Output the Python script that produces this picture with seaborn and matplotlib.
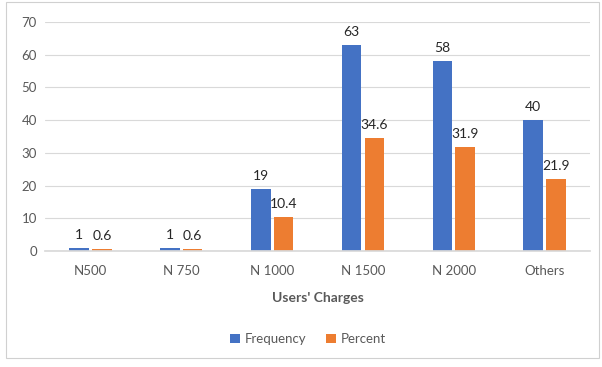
import matplotlib
matplotlib.use("Agg")
import matplotlib.pyplot as plt
import seaborn as sns
import pandas as pd
from matplotlib.patches import Rectangle

categories = ["N500", "N 750", "N 1000", "N 1500", "N 2000", "Others"]
frequency = [1, 1, 19, 63, 58, 40]
percent = [0.6, 0.6, 10.4, 34.6, 31.9, 21.9]
freq_labels = ["1", "1", "19", "63", "58", "40"]
pct_labels = ["0.6", "0.6", "10.4", "34.6", "31.9", "21.9"]
series = ["Frequency", "Percent"]
colors = ["#4472C4", "#ED7D31"]

df = pd.DataFrame({
    "cat": categories * 2,
    "val": frequency + percent,
    "series": [series[0]] * len(categories) + [series[1]] * len(categories),
})

sns.set_theme(style="white")
plt.rcParams["font.family"] = ["Lato", "DejaVu Sans"]

fig = plt.figure(figsize=(6.02, 3.67), dpi=100)
ax = fig.add_axes([0.075, 0.316, 0.905, 0.624])
sns.barplot(data=df, x="cat", y="val", hue="series", palette=colors,
            saturation=1, width=0.5, gap=0.14, linewidth=0, ax=ax, legend=True)

ax.set_ylim(0, 70)
ax.set_yticks(range(0, 71, 10))
ax.yaxis.grid(True, color="#D9D9D9", linewidth=0.8)
ax.set_axisbelow(True)
for s in ["top", "right", "left"]:
    ax.spines[s].set_visible(False)
ax.spines["bottom"].set_color("#D9D9D9")
ax.tick_params(axis="both", length=0, colors="#595959", labelsize=9.5)
ax.tick_params(axis="y", pad=6)
ax.tick_params(axis="x", pad=10)
ax.set_ylabel("")
ax.set_xlabel("Users' Charges", fontsize=10, fontweight="bold", color="#595959", labelpad=11)

for cont, labs in zip(ax.containers, [freq_labels, pct_labels]):
    ax.bar_label(cont, labels=labs, padding=5, fontsize=10, color="#262626")

leg = ax.legend(loc="upper center", bbox_to_anchor=(0.483, -0.305), ncol=2,
                frameon=False, fontsize=9.5, handlelength=0.7, handleheight=0.7,
                columnspacing=1.5, handletextpad=0.4)
for t in leg.get_texts():
    t.set_color("#595959")

fig.patches.append(Rectangle((0.01, 0.025), 0.985, 0.97, transform=fig.transFigure,
                             fill=False, edgecolor="#D0D0D0", linewidth=0.8))

fig.savefig("out.png", dpi=100)
